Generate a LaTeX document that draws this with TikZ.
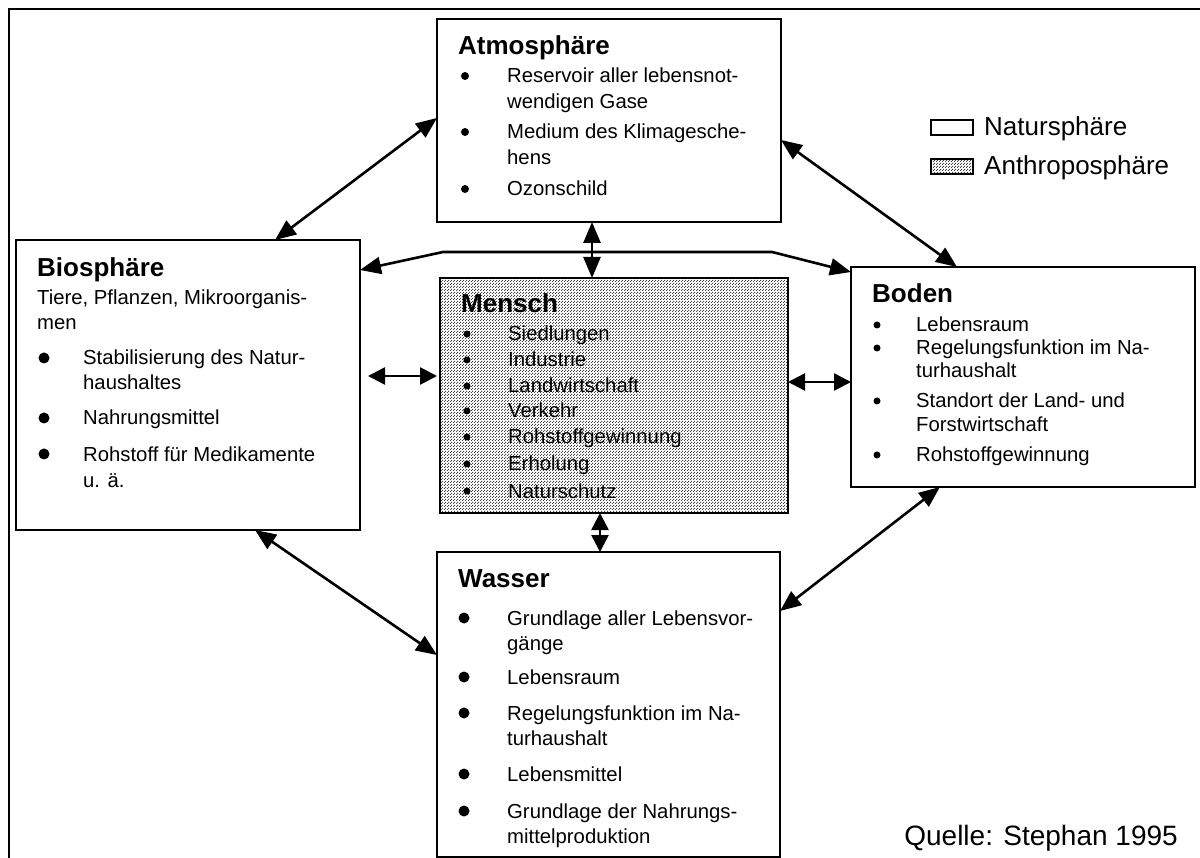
\documentclass[tikz,border=0pt]{standalone}
\usepackage{fontspec}
\setmainfont{Liberation Sans}
\usetikzlibrary{arrows.meta,patterns.meta}

% fine screen used for the human sphere
\tikzdeclarepattern{
  name=stipple,
  type=uncolored,
  bounding box={(0pt,0pt) and (3pt,3pt)},
  tile size={(3pt,3pt)},
  code={
    \pgfpathrectangle{\pgfpoint{0pt}{0pt}}{\pgfpoint{1.3pt}{1.3pt}}
    \pgfpathrectangle{\pgfpoint{1.5pt}{1.5pt}}{\pgfpoint{1.3pt}{1.3pt}}
    \pgfusepath{fill}
  }
}

\tikzset{
  x=1pt, y=-1pt,
  box/.style={draw, line width=1.8pt, fill=white, inner sep=0pt, outer sep=0pt, anchor=north west},
  humanbox/.style={draw, line width=1.8pt, inner sep=0pt, outer sep=0pt, anchor=north west,
    preaction={fill=white}, pattern=stipple, pattern color=black!75},
  ttl/.style={anchor=base west, inner sep=0pt, font=\fontsize{26}{30}\selectfont\bfseries},
  txt/.style={anchor=base west, inner sep=0pt, font=\fontsize{20.3}{24}\selectfont},
  big/.style={anchor=base west, inner sep=0pt, font=\fontsize{26}{30}\selectfont},
  link/.style={line width=2.6pt, {Triangle[length=21pt,width=17pt]}-{Triangle[length=21pt,width=17pt]}},
  shortlink/.style={line width=2.6pt, {Triangle[length=17pt,width=17pt]}-{Triangle[length=17pt,width=17pt]}},
}

\begin{document}
\begin{tikzpicture}
\useasboundingbox (0,0) rectangle (1200,858);
\fill[white] (0,0) rectangle (1200,858);

% outer frame
\draw[line width=2pt] (9,870) -- (9,9) -- (1210,9);

% spheres
\node[box, minimum width=344pt, minimum height=203pt] (atmo) at (437,19) {};
\node[box, minimum width=344pt, minimum height=290pt] (bio) at (16,240) {};
\node[humanbox, minimum width=348pt, minimum height=235pt] (mensch) at (440,278) {};
\node[box, minimum width=344pt, minimum height=220pt] (boden) at (851,267) {};
\node[box, minimum width=343pt, minimum height=305pt] (wasser) at (437,552) {};

% Atmosphäre
\node[ttl] (atmoT) at (458,55) {Atmosphäre};
\foreach \yy in {76,132,189} \fill (465,\yy) circle (4pt);
\node[txt] (a1) at (507,83) {Reservoir aller lebensnot-};
\node[txt] (a2) at (507,109) {wendigen Gase};
\node[txt] (a3) at (507,139) {Medium des Klimagesche-};
\node[txt] (a4) at (507,165) {hens};
\node[txt] (a5) at (507,196) {Ozonschild};

% Biosphäre
\node[ttl] (bioT) at (37,277) {Biosphäre};
\node[txt] (b0) at (37,305) {Tiere, Pflanzen, Mikroorganis-};
\node[txt] (b0b) at (37,330) {men};
\foreach \yy in {358,418,454} \fill (44,\yy) circle (5.5pt);
\node[txt] (b1) at (83,365) {Stabilisierung des Natur-};
\node[txt] (b2) at (83,390) {haushaltes};
\node[txt] (b3) at (83,425) {Nahrungsmittel};
\node[txt] (b4) at (83,461) {Rohstoff für Medikamente};
\node[txt] (b5) at (83,487) {u. ä.};

% Mensch
\node[ttl] (menschT) at (461,313) {Mensch};
\foreach \yy in {334,360,386,411,437,464,491} \fill (467,\yy) circle (3.5pt);
\node[txt] (m1) at (508,341) {Siedlungen};
\node[txt] (m2) at (508,367) {Industrie};
\node[txt] (m3) at (508,393) {Landwirtschaft};
\node[txt] (m4) at (508,418) {Verkehr};
\node[txt] (m5) at (508,444) {Rohstoffgewinnung};
\node[txt] (m6) at (508,471) {Erholung};
\node[txt] (m7) at (508,498) {Naturschutz};

% Boden
\node[ttl] (bodenT) at (872,303) {Boden};
\foreach \yy in {325,348,401,455} \fill (877,\yy) circle (3.5pt);
\node[txt] (d1) at (916,332) {Lebensraum};
\node[txt] (d2) at (916,355) {Regelungsfunktion im Na-};
\node[txt] (d3) at (916,378) {turhaushalt};
\node[txt] (d4) at (916,408) {Standort der Land- und};
\node[txt] (d5) at (916,432) {Forstwirtschaft};
\node[txt] (d6) at (916,462) {Rohstoffgewinnung};

% Wasser
\node[ttl] (wasserT) at (458,587) {Wasser};
\foreach \yy in {618,677,713,774,811} \fill (464,\yy) circle (5.5pt);
\node[txt] (w1) at (507,625) {Grundlage aller Lebensvor-};
\node[txt] (w2) at (507,650) {gänge};
\node[txt] (w3) at (507,684) {Lebensraum};
\node[txt] (w4) at (507,720) {Regelungsfunktion im Na-};
\node[txt] (w5) at (507,745) {turhaushalt};
\node[txt] (w6) at (507,781) {Lebensmittel};
\node[txt] (w7) at (507,818) {Grundlage der Nahrungs-};
\node[txt] (w8) at (507,843) {mittelproduktion};

% legend
\node[box, line width=1.5pt, minimum width=42pt, minimum height=15pt] (legN) at (931,120) {};
\node[big] (legNT) at (984,136) {Natursphäre};
\node[humanbox, line width=1.5pt, minimum width=42pt, minimum height=15pt] (legA) at (931,159) {};
\node[big] (legAT) at (984,175) {Anthroposphäre};

% source
\node[anchor=base east, inner sep=0pt, font=\fontsize{28}{32}\selectfont] (src) at (1178,845) {Quelle: Stephan 1995};

% exchanges between the spheres
\draw[link] ([xshift=259pt]bio.north west) -- ([yshift=-99pt]atmo.north west);
\draw[link] ([yshift=-121pt]atmo.north east) -- ([xshift=106pt]boden.north west);
\draw[link] ([xshift=155pt]atmo.south west) -- ([xshift=152pt]mensch.north west);
\draw[link] ([yshift=-30pt]bio.north east) -- (443,252) -- (772,252) -- ([yshift=-5pt]boden.north west);
\draw[shortlink] ([xshift=8pt,yshift=-136pt]bio.north east) -- ([xshift=-3pt,yshift=-98pt]mensch.north west);
\draw[shortlink] ([yshift=-104pt]mensch.north east) -- ([yshift=-115pt]boden.north west);
\draw[shortlink] ([xshift=160pt]mensch.south west) -- ([xshift=163pt]wasser.north west);
\draw[link] ([xshift=239pt]bio.south west) -- ([yshift=-103pt]wasser.north west);
\draw[link] ([xshift=89pt]boden.south west) -- ([yshift=-59pt]wasser.north east);
\end{tikzpicture}
\end{document}
